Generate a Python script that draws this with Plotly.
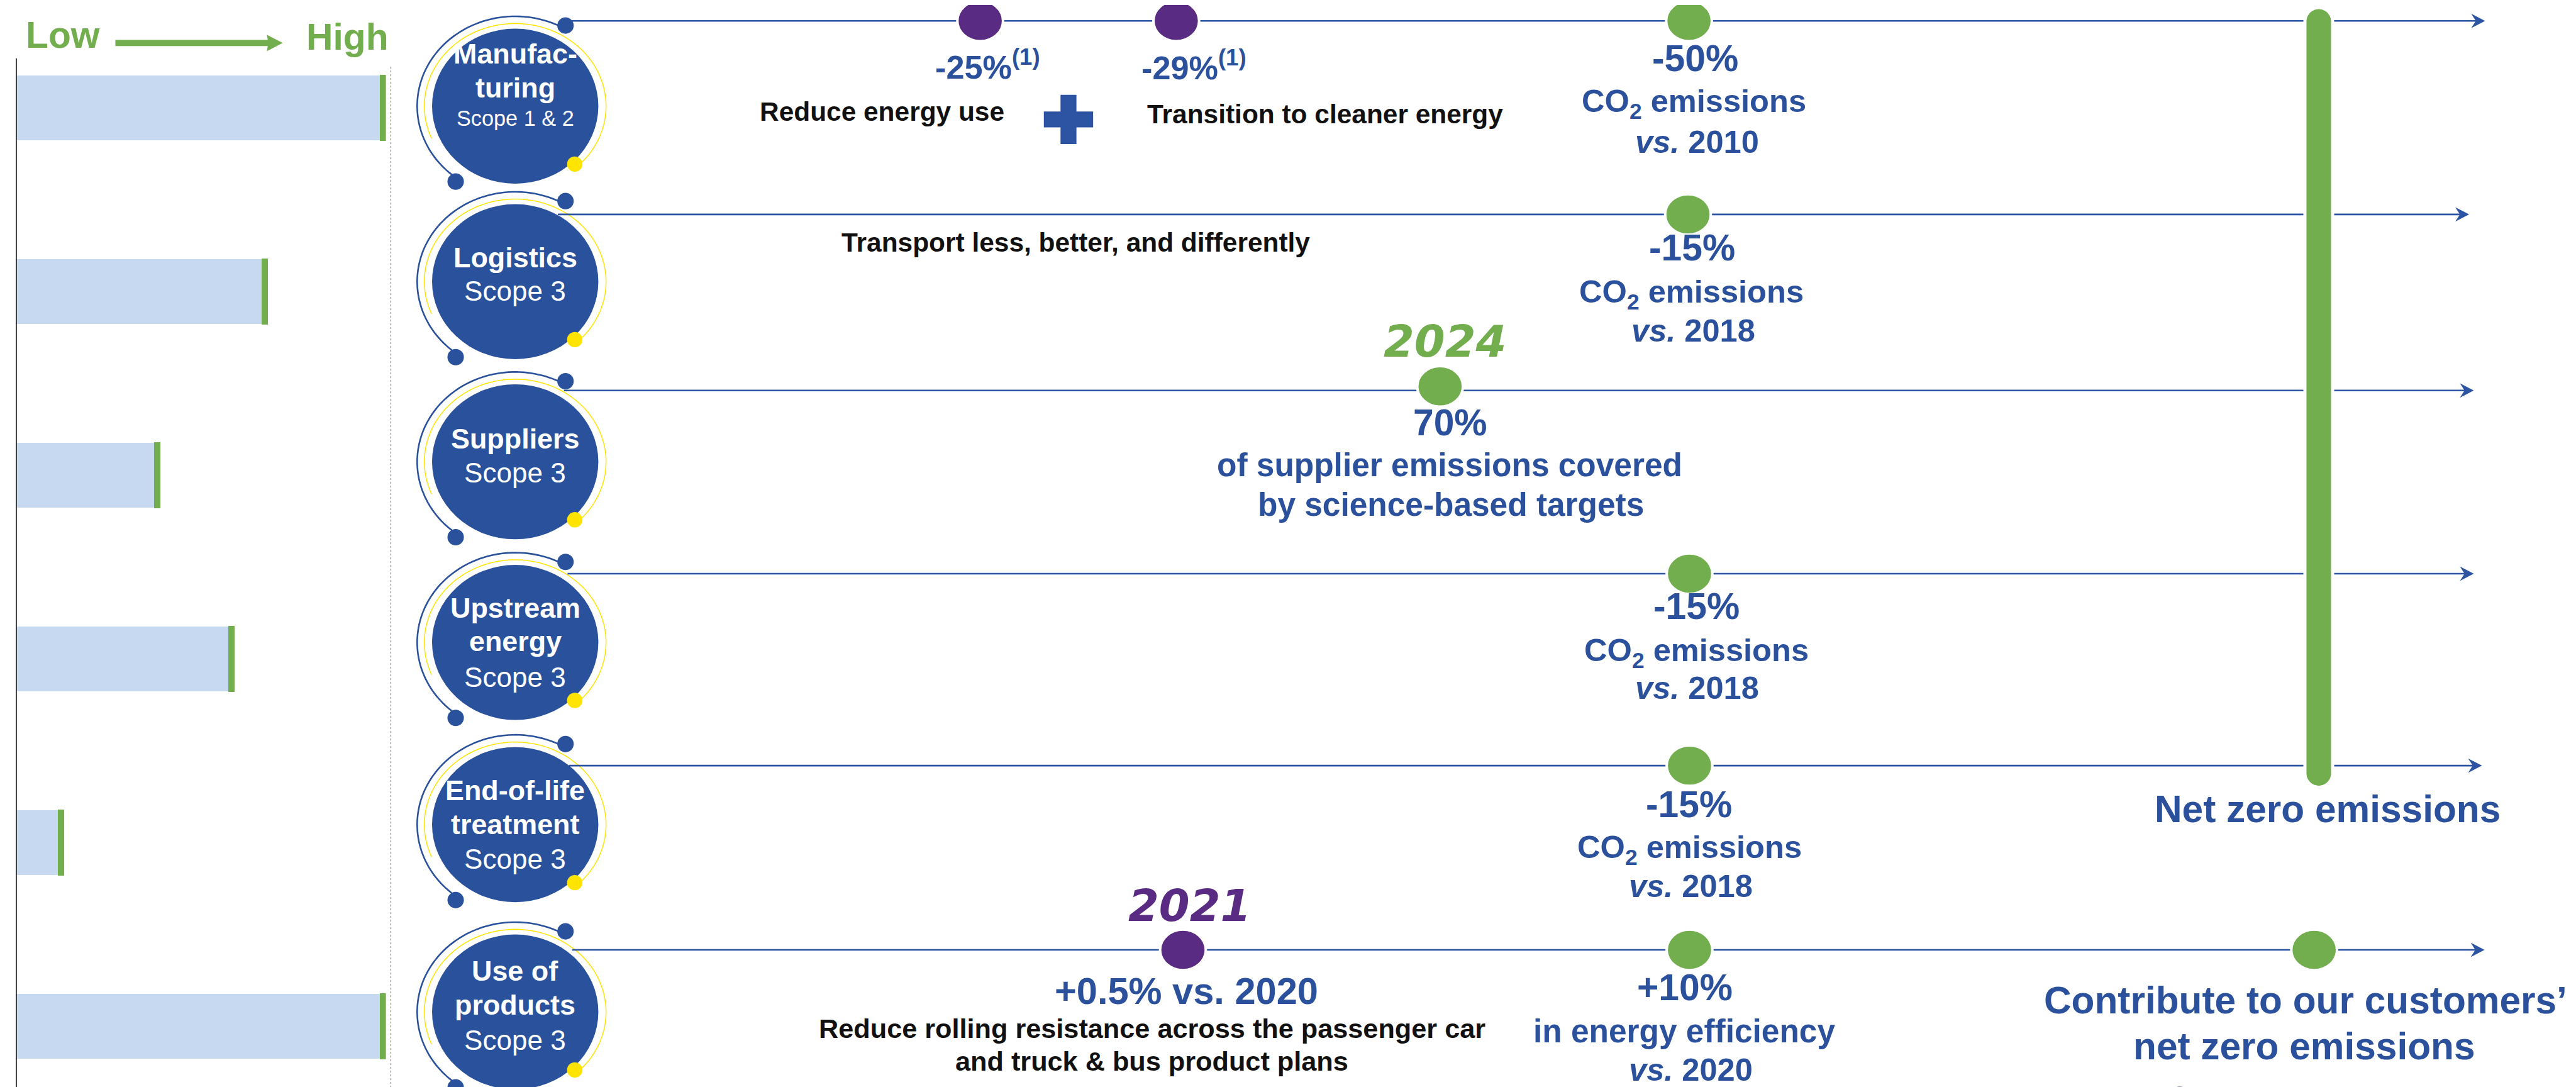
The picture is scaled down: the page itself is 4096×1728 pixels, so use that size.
import numpy as np
import plotly.graph_objects as go

# ---------------- data ----------------
scope_names = ["Manufac-|turing", "Logistics", "Suppliers", "Upstream|energy",
               "End-of-life|treatment", "Use of|products"]
scope_levels = ["Scope 1 & 2", "Scope 3", "Scope 3", "Scope 3", "Scope 3", "Scope 3"]
emission_weight = [100, 68, 39, 59, 13, 100]          # Low -> High

# milestones on each timeline row
milestone_row = [0, 0, 0, 1, 2, 3, 4, 5, 5, 5]
milestone_pos = [1900, 2282, 3281, 3279, 2796, 3282, 3282, 2295, 3282, 4499]
milestone_kind = ["interim", "interim", "2030", "2030", "2024", "2030", "2030",
                  "2021", "2030", "2050"]

# ---------------- layout constants (reference pixel units) ----------------
W_REF, H_REF = 5019, 2118
S = 4096 / W_REF

BLUE = "#2A529C"
TBLUE = "#2B509C"
LBLUE = "#2D54A3"
GREEN = "#72AD4E"
PURPLE = "#5A2B82"
LIGHT = "#C6D9F0"
YELLOW = "#FFE400"
BLACK = "#111111"

CX = 994
circle_cy = [197, 539, 890, 1242, 1597, 1962]
line_y = [31, 408, 751, 1108, 1482, 1841]
line_x0 = [1100, 1077, 1089, 1096, 1099, 1105]
arrow_tip = [4832, 4801, 4810, 4810, 4826, 4831]
label_base = [[-77, -10, 44], [-22, 44], [-20, 47], [-42, 23, 93], [-41, 25, 93], [-55, 12, 80]]

fig = go.Figure()

# ---------------- left bars ----------------
rows = list(range(len(scope_names)))
fig.add_trace(go.Bar(x=emission_weight, y=rows, orientation="h", width=0.352,
                     marker=dict(color=LIGHT, line_width=0), xaxis="x2", yaxis="y2",
                     hoverinfo="skip"))
tick_w = 1.7
fig.add_trace(go.Bar(x=[tick_w] * len(rows), base=[v - tick_w for v in emission_weight],
                     y=rows, orientation="h", width=0.36,
                     marker=dict(color=GREEN, line_width=0), xaxis="x2", yaxis="y2",
                     hoverinfo="skip"))

shapes = []
annots = []


def poly(xs, ys, close=False):
    p = "M " + " L ".join(f"{x:.1f},{y:.1f}" for x, y in zip(xs, ys))
    return p + (" Z" if close else "")


def arc(cx, cy, rx, ry, t0, t1, n=80):
    t = np.radians(np.linspace(t0, t1, n))
    return poly(cx + rx * np.cos(t), cy - ry * np.sin(t))


def ell(cx, cy, rx, ry, color, lw=0, lc="white"):
    shapes.append(dict(type="circle", xref="x", yref="y", x0=cx - rx, x1=cx + rx,
                       y0=cy - ry, y1=cy + ry, fillcolor=color,
                       line=dict(color=lc, width=lw), layer="above"))


ASC = {"Liberation Sans": 1.03, "DejaVu Sans": 1.05}
DESC = {"Liberation Sans": 0.212, "DejaVu Sans": 0.236}


def txt(x, base, text, size, color, family="Liberation Sans", bold=True, italic=False):
    t = text
    if italic:
        t = f"<i>{t}</i>"
    if bold:
        t = f"<b>{t}</b>"
    if "<sup>" in text:
        ya, y = "bottom", base + DESC[family] * size
    else:
        ya, y = "top", base - ASC[family] * size
    annots.append(dict(x=x, y=y, xref="x", yref="y", text=t, showarrow=False,
                       xanchor="center", yanchor=ya, borderpad=0, borderwidth=0,
                       font=dict(family=family, size=size * S, color=color)))


# Low -> High header
txt(113, 92, "Low", 72, GREEN)
txt(667, 96, "High", 72, GREEN)
shapes.append(dict(type="path", xref="x", yref="y",
                   path=poly([215, 512, 510, 541, 510, 512, 215], [68, 68, 58, 74, 90, 80, 80], True),
                   fillcolor=GREEN, line=dict(width=0)))
# panel separators
shapes.append(dict(type="line", xref="x", yref="y", x0=22, x1=22, y0=104, y1=H_REF,
                   line=dict(color="#111111", width=1.6)))
shapes.append(dict(type="line", xref="x", yref="y", x0=751, x1=751, y0=120, y1=H_REF,
                   line=dict(color="#A8A8A8", width=1.4, dash="dot")))

# ---------------- scope circles ----------------
for i, cy in enumerate(circle_cy):
    shapes.append(dict(type="path", xref="x", yref="y", path=arc(CX, cy, 191, 175, 61, 234),
                       line=dict(color=BLUE, width=2.6)))
    shapes.append(dict(type="path", xref="x", yref="y", path=arc(CX, cy, 177, 161, 203, -45),
                       line=dict(color=YELLOW, width=1.5)))
    ell(CX, cy, 162, 151, BLUE)
    ell(1092, cy - 157, 16, 16, BLUE)
    ell(878, cy + 147, 16, 16, BLUE)
    ell(1110, cy + 113, 15, 15, YELLOW)
    parts = scope_names[i].split("|")
    offs = label_base[i]
    for j, p in enumerate(parts):
        txt(CX, cy + offs[j], p, 55, "white")
    txt(CX, cy + offs[-1], scope_levels[i], 42 if i == 0 else 54, "white", bold=False)

# ---------------- timeline lines ----------------
for i, y in enumerate(line_y):
    tip = arrow_tip[i]
    shapes.append(dict(type="line", xref="x", yref="y", x0=line_x0[i], x1=tip - 12, y0=y, y1=y,
                       line=dict(color=LBLUE, width=2.6)))
    shapes.append(dict(type="path", xref="x", yref="y",
                       path=poly([tip, tip - 27, tip - 18, tip - 27], [y, y - 14, y, y + 14], True),
                       fillcolor=LBLUE, line=dict(width=0)))

# net-zero bar (2050, rows 1-5)
bx, bw, btop, bbot = 4508, 27, 5, 1524
t = np.linspace(0, np.pi, 30)
xs = list(bx + bw * np.cos(t)) + list(bx - bw * np.cos(t))
ys = list(btop + bw - bw * np.sin(t)) + list(bbot - bw + bw * np.sin(t))
shapes.append(dict(type="path", xref="x", yref="y", path=poly(xs, ys, True),
                   fillcolor=GREEN, line=dict(color="white", width=5)))

# milestone dots
for r, p, k in zip(milestone_row, milestone_pos, milestone_kind):
    col = PURPLE if k in ("interim", "2021") else GREEN
    y = line_y[r] - (8 if k == "2024" else 0)
    ell(p, y, 44.5, 39.5, col, lw=4)

# plus sign
cxp, cyp, a, th = 2072, 223, 48, 15.5
shapes.append(dict(type="path", xref="x", yref="y",
                   path=poly([cxp - th, cxp + th, cxp + th, cxp + a, cxp + a, cxp + th, cxp + th,
                              cxp - th, cxp - th, cxp - a, cxp - a, cxp - th],
                             [cyp - a, cyp - a, cyp - th, cyp - th, cyp + th, cyp + th, cyp + a,
                              cyp + a, cyp + th, cyp + th, cyp - th, cyp - th], True),
                   fillcolor=LBLUE, line=dict(width=0)))

# partial icon at bottom edge
shapes.append(dict(type="path", xref="x", yref="y", path=arc(4237, 2124, 20, 14, 160, 20, 20),
                   line=dict(color="#1F3A6E", width=4)))

# ---------------- timeline texts ----------------
CO2 = "CO<sub>2</sub> emissions"
VS = lambda y: f"<i>vs.</i> {y}"
# row 1
txt(1914, 143, "-25%<sup>(1)</sup>", 64, TBLUE)
txt(2317, 145, "-29%<sup>(1)</sup>", 64, TBLUE)
txt(1709, 232, "Reduce energy use", 52, BLACK)
txt(2572, 237, "Transition to cleaner energy", 52, BLACK)
txt(3293, 138, "-50%", 72, TBLUE)
txt(3291, 216, CO2, 62, TBLUE)
txt(3297, 295, VS(2010), 62, TBLUE)
# row 2
txt(2086, 487, "Transport less, better, and differently", 52, BLACK)
txt(3287, 507, "-15%", 72, TBLUE)
txt(3286, 587, CO2, 62, TBLUE)
txt(3290, 663, VS(2018), 62, TBLUE)
# row 3
txt(2805, 696, "2024", 86, GREEN, family="DejaVu Sans", italic=True)
txt(2816, 847, "70%", 72, TBLUE)
txt(2815, 925, "of supplier emissions covered", 63, TBLUE)
txt(2817, 1002, "by science-based targets", 63, TBLUE)
# row 4
txt(3296, 1205, "-15%", 72, TBLUE)
txt(3296, 1286, CO2, 62, TBLUE)
txt(3297, 1360, VS(2018), 62, TBLUE)
# row 5
txt(3281, 1591, "-15%", 72, TBLUE)
txt(3282, 1669, CO2, 62, TBLUE)
txt(3285, 1746, VS(2018), 62, TBLUE)
# row 6
txt(2308, 1795, "2021", 86, PURPLE, family="DejaVu Sans", italic=True)
txt(2302, 1955, "+0.5% vs. 2020", 73, TBLUE)
txt(2235, 2019, "Reduce rolling resistance across the passenger car", 53, BLACK)
txt(2235, 2083, "and truck &amp; bus product plans", 53, BLACK)
txt(3273, 1948, "+10%", 72, TBLUE)
txt(3272, 2029, "in energy efficiency", 63, TBLUE)
txt(3285, 2104, VS(2020), 62, TBLUE)
# right side
txt(4525, 1601, "Net zero emissions", 74, TBLUE)
txt(4482, 1973, "Contribute to our customers’", 74, TBLUE)
txt(4480, 2063, "net zero emissions", 74, TBLUE)

fig.update_layout(
    width=4096, height=1728, margin=dict(l=0, r=0, t=0, b=0),
    paper_bgcolor="white", plot_bgcolor="rgba(0,0,0,0)", showlegend=False,
    barmode="overlay", bargap=0,
    xaxis=dict(range=[0, W_REF], visible=False, domain=[0, 1], fixedrange=True),
    yaxis=dict(range=[H_REF, 0], visible=False, domain=[0, 1], fixedrange=True),
    xaxis2=dict(range=[0, 100], visible=False, domain=[22 / W_REF, 742 / W_REF], anchor="y2"),
    yaxis2=dict(range=[5.3575, -0.5587], visible=False, domain=[0, 1], anchor="x2"),
    shapes=shapes, annotations=annots,
)

fig.write_html("out.html")
